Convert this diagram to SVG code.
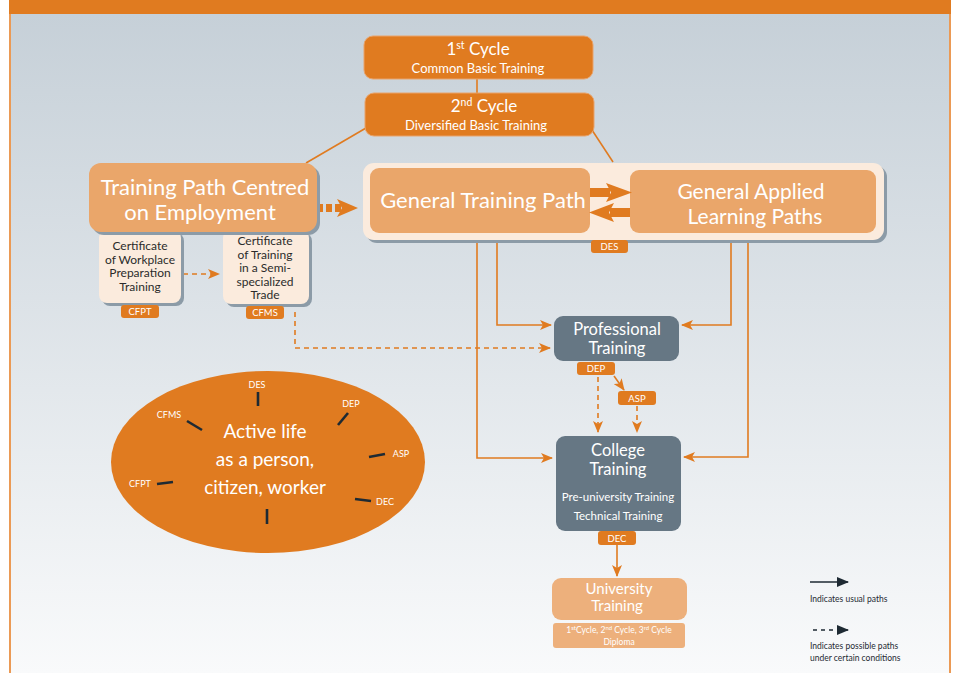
<svg xmlns="http://www.w3.org/2000/svg" width="955" height="673" viewBox="0 0 955 673">
<defs>
<linearGradient id="bg" x1="0" y1="0" x2="0" y2="1">
<stop offset="0" stop-color="#c6d0d8"/>
<stop offset="1" stop-color="#f9fafb"/>
</linearGradient>
<marker id="ah" viewBox="0 0 12 10" refX="11" refY="5" markerWidth="12" markerHeight="10" markerUnits="userSpaceOnUse" orient="auto">
<path d="M0,0 L12,5 L0,10 L3,5 z" fill="#e07b20"/>
</marker>
<marker id="ahk" viewBox="0 0 12 10" refX="11" refY="5" markerWidth="12" markerHeight="10" markerUnits="userSpaceOnUse" orient="auto">
<path d="M0,0 L12,5 L0,10 z" fill="#1e2a33"/>
</marker>
<style>
text{font-family:"Lato","Open Sans","Liberation Sans",sans-serif;}
.w{fill:#ffffff;text-anchor:middle;}
.d{fill:#2b2b2b;text-anchor:middle;font-size:12px;}
.or{fill:#e07b20;}
.lo{fill:#eaa66a;}
.cr{fill:#fbebdd;}
.sl{fill:#667784;}
.sh{fill:#8c9ba7;}
.tag{fill:#e07b20;}
.tt{fill:#ffffff;text-anchor:middle;font-size:9.5px;}
.ln{stroke:#e07b20;stroke-width:1.6;fill:none;}
.dl{stroke:#e07b20;stroke-width:1.6;fill:none;stroke-dasharray:5 4;}
.tick{stroke:#1e2a33;stroke-width:2.6;}
.el{fill:#ffffff;font-size:9px;text-anchor:middle;}
.lg{fill:#1e2a33;font-size:8.5px;}
</style>
</defs>
<rect x="0" y="0" width="955" height="673" fill="#ffffff"/>
<rect x="11" y="14" width="938" height="659" fill="url(#bg)"/>
<rect x="9" y="0" width="942" height="14" fill="#e07b20"/>
<rect x="9" y="14" width="2" height="659" fill="#eb9a55"/>
<rect x="949" y="14" width="2" height="659" fill="#eb9a55"/>

<g id="connectors">
<line class="ln" x1="477" y1="79" x2="477" y2="93"/>
<line class="ln" x1="366" y1="128" x2="306" y2="163"/>
<line class="ln" x1="592" y1="130" x2="613" y2="162"/>
<polyline class="ln" points="497,233 497,325 551,325" marker-end="url(#ah)"/>
<polyline class="ln" points="477,233 477,458 552,458" marker-end="url(#ah)"/>
<polyline class="ln" points="731,233 731,325 682,325" marker-end="url(#ah)"/>
<polyline class="ln" points="748,233 748,457 684,457" marker-end="url(#ah)"/>
<line class="dl" x1="183" y1="274" x2="219" y2="274" marker-end="url(#ah)"/>
<polyline class="dl" points="295,312 295,348 550,348" marker-end="url(#ah)"/>
<line class="ln" x1="614" y1="376" x2="624" y2="390" marker-end="url(#ah)"/>
<line class="dl" x1="598" y1="377" x2="598" y2="432" marker-end="url(#ah)"/>
<line class="dl" x1="637" y1="406" x2="637" y2="432" marker-end="url(#ah)"/>
<line class="ln" x1="617" y1="545" x2="617" y2="576" marker-end="url(#ah)"/>
<line x1="317" y1="208" x2="342" y2="208" stroke="#e07b20" stroke-width="8" stroke-dasharray="6 3"/>
<path d="M337,199 L358,208 L337,217 L342,208 z" fill="#e07b20"/>
</g>

<g id="cycle1">
<rect x="364" y="36" width="229" height="43" rx="9" class="or" stroke="#e9a36a" stroke-width="1"/>
<text class="w" x="478" y="55" font-size="17">1<tspan font-size="10.5" dy="-6">st</tspan><tspan dy="6"> Cycle</tspan></text>
<text class="w" x="478" y="73" font-size="13">Common Basic Training</text>
</g>

<g id="cycle2">
<rect x="365" y="93" width="229" height="43" rx="9" class="or" stroke="#e9a36a" stroke-width="1"/>
<text class="w" x="484" y="112" font-size="17">2<tspan font-size="10.5" dy="-6">nd</tspan><tspan dy="6"> Cycle</tspan></text>
<text class="w" x="476" y="130" font-size="13">Diversified Basic Training</text>
</g>

<g id="cert-workplace">
<rect x="102" y="233" width="82" height="73" rx="8" class="sh"/>
<rect x="99" y="230" width="82" height="73" rx="8" class="cr"/>
<text class="d" x="140" y="250">Certificate</text>
<text class="d" x="140" y="263.5">of Workplace</text>
<text class="d" x="140" y="277">Preparation</text>
<text class="d" x="140" y="290.5">Training</text>
<rect x="121" y="305" width="38" height="13" rx="3" class="tag"/>
<text class="tt" x="140" y="315">CFPT</text>
</g>

<g id="cert-semi">
<rect x="226" y="233" width="86" height="74" rx="8" class="sh"/>
<rect x="223" y="230" width="86" height="74" rx="8" class="cr"/>
<text class="d" x="265" y="245">Certificate</text>
<text class="d" x="265" y="258.5">of Training</text>
<text class="d" x="265" y="272">in a Semi-</text>
<text class="d" x="265" y="285.5">specialized</text>
<text class="d" x="265" y="299">Trade</text>
<rect x="246" y="306" width="38" height="13" rx="3" class="tag"/>
<text class="tt" x="265" y="316">CFMS</text>
</g>

<g id="tpce">
<rect x="92" y="166" width="228" height="69" rx="12" class="sh"/>
<rect x="89" y="163" width="228" height="69" rx="12" class="lo"/>
<text class="w" x="205" y="195" font-size="22">Training Path Centred</text>
<text class="w" x="200" y="220" font-size="22">on Employment</text>
</g>

<g id="general-container">
<rect x="366" y="166" width="521" height="77" rx="11" class="sh"/>
<rect x="363" y="163" width="521" height="77" rx="11" class="cr"/>
<rect x="591" y="240" width="37" height="13" rx="3" class="tag"/>
<text class="tt" x="609.5" y="250">DES</text>
</g>

<g id="gtp">
<rect x="370" y="168" width="220" height="65" rx="9" class="lo"/>
<text class="w" x="483" y="208" font-size="22">General Training Path</text>
</g>

<g id="galp">
<rect x="630" y="170" width="246" height="63" rx="9" class="lo"/>
<text class="w" x="751" y="199" font-size="21">General Applied</text>
<text class="w" x="755" y="224" font-size="21">Learning Paths</text>
</g>

<g id="gtp-galp-arrows">
<rect x="590" y="188" width="20" height="9" fill="#e07b20"/>
<path d="M606,183 L632,192.5 L606,202 L611,192.5 z" fill="#e07b20"/>
<rect x="610" y="208" width="20" height="9" fill="#e07b20"/>
<path d="M614,203 L589,212.5 L614,222 L609,212.5 z" fill="#e07b20"/>
</g>

<g id="professional">
<rect x="554" y="316" width="125" height="45" rx="9" class="sl"/>
<text class="w" x="617" y="335" font-size="16.5">Professional</text>
<text class="w" x="617" y="354" font-size="16.5">Training</text>
<rect x="577" y="362" width="38" height="13" rx="3" class="tag"/>
<text class="tt" x="596" y="372">DEP</text>
</g>

<g id="asp">
<rect x="618" y="391" width="38" height="14" rx="3" class="tag"/>
<text class="tt" x="637" y="402">ASP</text>
</g>

<g id="college">
<rect x="556" y="436" width="125" height="95" rx="9" class="sl"/>
<text class="w" x="618" y="456" font-size="16.5">College</text>
<text class="w" x="618" y="475" font-size="16.5">Training</text>
<text class="w" x="618" y="501" font-size="11.5">Pre-university Training</text>
<text class="w" x="618" y="520" font-size="11.5">Technical Training</text>
<rect x="598" y="531" width="38" height="14" rx="3" class="tag"/>
<text class="tt" x="617" y="542">DEC</text>
</g>

<g id="university">
<rect x="552" y="578" width="135" height="42" rx="9" fill="#edb07c"/>
<text class="w" x="619" y="594" font-size="15">University</text>
<text class="w" x="617" y="611" font-size="15">Training</text>
<rect x="553" y="623" width="132" height="25" rx="3" fill="#edb07c"/>
<text class="w" x="619" y="633" font-size="8.5">1<tspan font-size="6" dy="-3">st</tspan><tspan dy="3">Cycle, 2</tspan><tspan font-size="6" dy="-3">nd</tspan><tspan dy="3"> Cycle, 3</tspan><tspan font-size="6" dy="-3">rd</tspan><tspan dy="3"> Cycle</tspan></text>
<text class="w" x="619" y="645" font-size="8.5">Diploma</text>
</g>

<g id="active-life">
<ellipse cx="268" cy="462" rx="157" ry="91" class="or"/>
<text class="w" x="265" y="438" font-size="19">Active life</text>
<text class="w" x="265" y="466" font-size="19">as a person,</text>
<text class="w" x="265" y="494" font-size="19">citizen, worker</text>
<text class="el" x="257" y="388">DES</text>
<line class="tick" x1="258" y1="392" x2="258" y2="406"/>
<text class="el" x="351" y="407">DEP</text>
<line class="tick" x1="348" y1="413" x2="338" y2="425"/>
<text class="el" x="401" y="457">ASP</text>
<line class="tick" x1="369" y1="457" x2="385" y2="454"/>
<text class="el" x="385" y="505">DEC</text>
<line class="tick" x1="355" y1="499" x2="371" y2="501"/>
<text class="el" x="140" y="487">CFPT</text>
<line class="tick" x1="157" y1="484" x2="173" y2="482"/>
<text class="el" x="169" y="418">CFMS</text>
<line class="tick" x1="187" y1="421" x2="202" y2="430"/>
<line class="tick" x1="267" y1="509" x2="267" y2="524"/>
</g>

<g id="legend">
<line x1="810" y1="582" x2="848" y2="582" stroke="#1e2a33" stroke-width="1.5" marker-end="url(#ahk)"/>
<text class="lg" x="810" y="602">Indicates usual paths</text>
<line x1="813" y1="630" x2="848" y2="630" stroke="#1e2a33" stroke-width="1.5" stroke-dasharray="4 4" marker-end="url(#ahk)"/>
<text class="lg" x="810" y="649">Indicates possible paths</text>
<text class="lg" x="810" y="661">under certain conditions</text>
</g>
</svg>
